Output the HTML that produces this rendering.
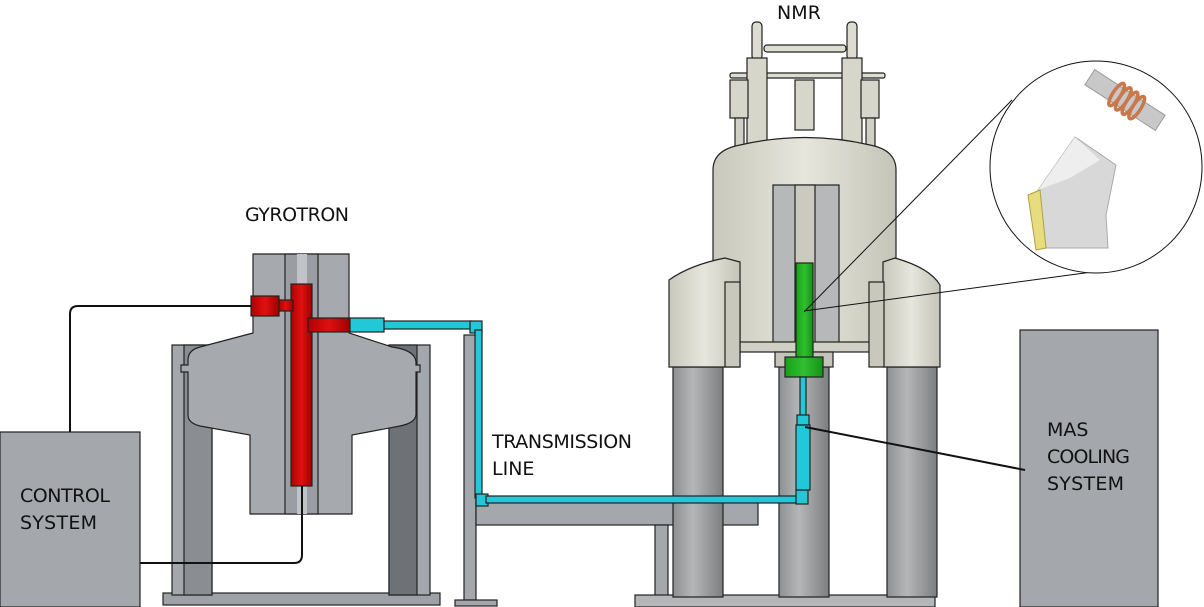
<!DOCTYPE html>
<html><head><meta charset="utf-8"><style>
body{margin:0;background:#fff}
svg{display:block}
text{font-family:"DejaVu Sans","Liberation Sans",sans-serif;font-size:19px;fill:#111}
</style></head><body>
<svg width="1204" height="607" viewBox="0 0 1204 607" xmlns="http://www.w3.org/2000/svg">
<defs>
<linearGradient id="pil" x1="0" x2="1"><stop offset="0" stop-color="#8e9092"/><stop offset="0.4" stop-color="#b4b6b8"/><stop offset="1" stop-color="#7c7e80"/></linearGradient>
<linearGradient id="mag" x1="0" x2="1"><stop offset="0" stop-color="#c8c8bc"/><stop offset="0.5" stop-color="#e6e6dc"/><stop offset="1" stop-color="#c4c4b8"/></linearGradient>
<linearGradient id="red" x1="0" x2="1"><stop offset="0" stop-color="#b00000"/><stop offset="0.5" stop-color="#e01010"/><stop offset="1" stop-color="#a00000"/></linearGradient>
<linearGradient id="grn" x1="0" x2="1"><stop offset="0" stop-color="#18a018"/><stop offset="0.5" stop-color="#30c030"/><stop offset="1" stop-color="#169016"/></linearGradient>
</defs>
<g stroke="#222" stroke-width="1.2">
<rect x="0" y="432" width="140" height="175" fill="#a4a8ac"/>
<rect x="1020" y="330" width="138" height="277" fill="#a4a8ac"/>
<rect x="163" y="593" width="277" height="12" fill="#9ea2a6"/>
<rect x="172" y="345" width="40" height="250" fill="#a4a8ac"/>
<rect x="184" y="345" width="28" height="250" fill="#8a8e92"/>
<rect x="389" y="345" width="41" height="250" fill="#a4a8ac"/>
<rect x="389" y="345" width="28" height="250" fill="#6e7276"/>
<path d="M253 254 H349 V333 L392 347 Q415 350 416 362 V365 H420 V372 H416 V415 Q415 423 400 426 L352 435 V514 H250 V435 L200 426 Q188 423 188 415 V372 H181 V365 H188 V360 Q188 350 200 347 L253 333 Z" fill="#a6aaae"/>
<rect x="285" y="254" width="33" height="260" fill="#9a9ea2"/>
<rect x="297" y="254" width="10" height="260" fill="#c0c4c8" stroke="none"/>
<rect x="291" y="284" width="21" height="202" fill="url(#red)"/>
<rect x="251" y="296" width="28" height="20" fill="url(#red)"/>
<rect x="279" y="300" width="14" height="11" fill="url(#red)"/>
<rect x="308" y="318" width="42" height="14" fill="url(#red)"/>
<rect x="464" y="335" width="12" height="265" fill="#a4a8ac"/>
<rect x="455" y="600" width="42" height="6" fill="#a4a8ac"/>
<rect x="476" y="500" width="282" height="25" fill="#a4a8ac"/>
<rect x="655" y="525" width="13" height="75" fill="#a4a8ac"/>
<rect x="635" y="595" width="300" height="12" fill="#b4b6b8"/>
<rect x="673" y="367" width="50" height="230" fill="url(#pil)"/>
<rect x="779" y="367" width="50" height="230" fill="url(#pil)"/>
<rect x="887" y="367" width="50" height="230" fill="url(#pil)"/>
<rect x="764" y="45" width="82" height="7" rx="3" fill="#ddddd2"/>
<rect x="730" y="73" width="155" height="5" rx="2" fill="#ddddd2"/>
<rect x="752" y="22" width="10" height="38" rx="4" fill="#dcdcd0"/>
<rect x="847" y="22" width="10" height="38" rx="4" fill="#dcdcd0"/>
<rect x="747" y="58" width="20" height="90" fill="#d6d6ca"/>
<rect x="842" y="58" width="20" height="90" fill="#d6d6ca"/>
<rect x="730" y="80" width="18" height="38" fill="#d6d6ca"/>
<rect x="735" y="118" width="9" height="30" fill="#d0d0c4"/>
<rect x="861" y="80" width="18" height="38" fill="#d6d6ca"/>
<rect x="866" y="118" width="9" height="30" fill="#d0d0c4"/>
<rect x="795" y="80" width="19" height="50" fill="#d6d6ca"/>
<path d="M713 170 Q713 150 740 145 Q805 130 870 145 Q896 150 896 170 V350 H713 Z" fill="url(#mag)"/>
<rect x="773" y="185" width="66" height="160" fill="#b6b8ba"/>
<rect x="795" y="185" width="20" height="160" fill="#cacabe"/>
<rect x="735" y="342" width="138" height="10" fill="#d0d0c4"/>
<rect x="775" y="352" width="58" height="15" fill="#c4c4b8"/>
<path d="M669 280 Q690 265 725 258 L740 262 V367 H669 Z" fill="url(#mag)"/>
<rect x="725" y="282" width="15" height="85" fill="#c8c8bc"/>
<path d="M883 262 L895 258 Q930 268 940 285 V367 H883 Z" fill="url(#mag)"/>
<rect x="869" y="282" width="15" height="85" fill="#c8c8bc"/>
<rect x="796" y="263" width="17" height="95" fill="url(#grn)"/>
<rect x="785" y="357" width="38" height="20" fill="url(#grn)"/>
<rect x="350" y="318" width="34" height="14" fill="#20c8d8"/>
<rect x="384" y="321" width="88" height="8" fill="#20c8d8"/>
<rect x="470" y="321" width="12" height="12" fill="#20c8d8"/>
<rect x="475" y="330" width="7" height="168" fill="#20c8d8"/>
<rect x="476" y="494" width="12" height="12" fill="#20c8d8"/>
<rect x="486" y="496" width="314" height="7" fill="#20c8d8"/>
<rect x="796" y="490" width="12" height="14" fill="#20c8d8"/>
<rect x="800" y="377" width="6" height="40" fill="#20c8d8"/>
<rect x="797" y="415" width="12" height="10" fill="#20c8d8"/>
<rect x="796" y="425" width="14" height="65" fill="#20c8d8"/>
</g>
<g fill="none" stroke="#111" stroke-width="2">
<path d="M251 306 H78 Q70 306 70 314 V432"/>
<path d="M302 486 V555 Q302 563 294 563 H140"/>
</g>
<g fill="none" stroke="#111" stroke-width="1">
<path d="M804 312 L1012 100"/>
<path d="M804 311 L1092 272"/>
<path d="M805 427 L1025 470" stroke-width="2"/>
<circle cx="1096" cy="167" r="106" fill="#fff"/>
</g>
<g transform="translate(1125,100) rotate(33)">
<rect x="-42" y="-9" width="84" height="18" fill="#c8c8c8" stroke="#999"/>
<g fill="none" stroke="#c8784a" stroke-width="3.5">
<ellipse cx="-10" cy="0" rx="4" ry="13"/><ellipse cx="-2" cy="0" rx="4" ry="13"/><ellipse cx="6" cy="0" rx="4" ry="13"/><ellipse cx="14" cy="0" rx="4" ry="13"/>
</g>
</g>
<path d="M1038 190 L1075 137 L1116 165 L1106 215 L1108 248 H1045 L1040 218 Z" fill="#d8d8d8" stroke="#aaa"/>
<path d="M1038 190 L1075 137 L1100 160 L1070 178 Z" fill="#eeeeee"/>
<path d="M1028 195 L1040 190 L1046 248 L1036 250 Z" fill="#e8dc80" stroke="#b0a040"/>
<text x="777" y="19" textLength="44">NMR</text>
<text x="245" y="221" textLength="104">GYROTRON</text>
<text x="492" y="448" textLength="140">TRANSMISSION</text>
<text x="492" y="475">LINE</text>
<text x="20" y="502" textLength="90">CONTROL</text>
<text x="20" y="529" textLength="77">SYSTEM</text>
<text x="1047" y="436">MAS</text>
<text x="1047" y="463" textLength="83">COOLING</text>
<text x="1047" y="490" textLength="77">SYSTEM</text>
</svg>
</body></html>
